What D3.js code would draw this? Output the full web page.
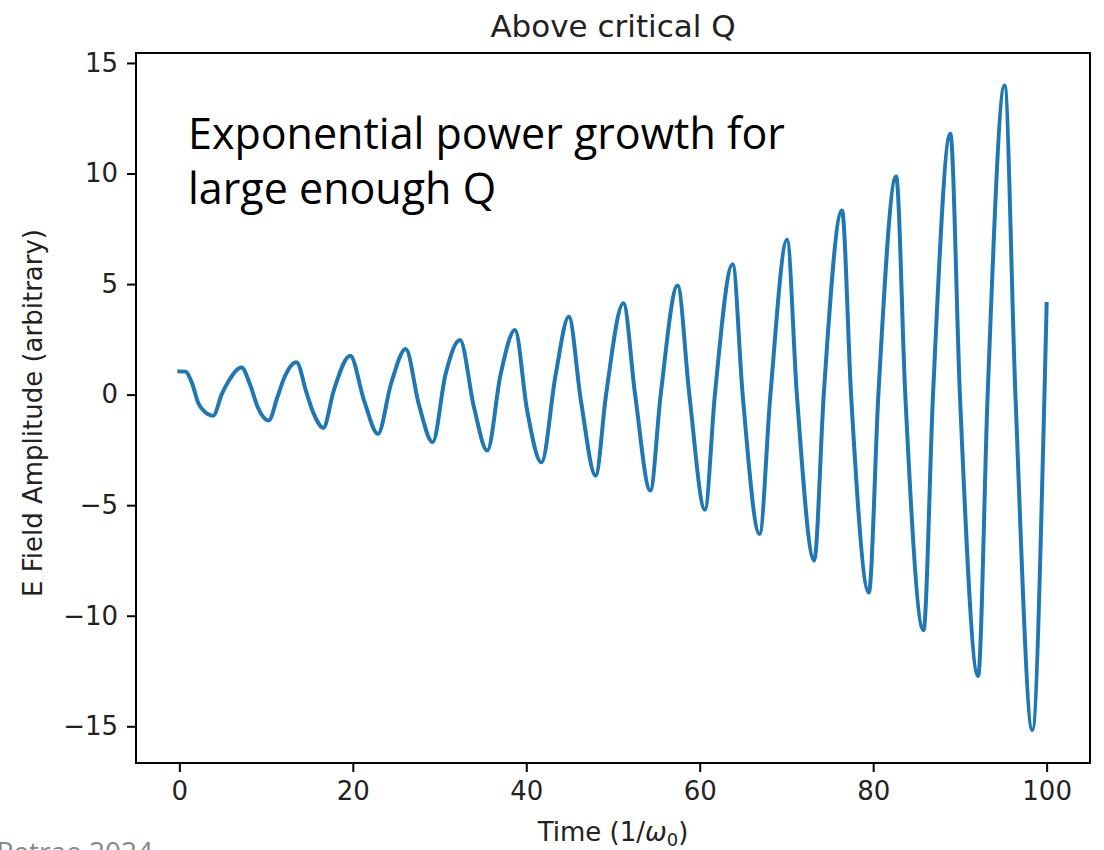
<!DOCTYPE html>
<html>
<head>
<meta charset="utf-8">
<script src="https://cdn.jsdelivr.net/npm/d3@7"></script>
<style>
  body { margin: 0; background: #fff; }
  svg text { font-family: "DejaVu Sans", sans-serif; }
</style>
</head>
<body>
<div id="chart"></div>
<script>
// readings: time (1/w0) and field amplitude
const times = [0, 0.7, 1.47, 2.2, 2.8, 3.9, 4.9, 5.7, 7.16, 8.2, 8.97, 10.3, 11.3, 12.04, 13.5,
  14.7, 15.5, 16.6, 17.8, 19.7, 21.3, 22.9, 24.4, 26.1, 27.6, 29.2, 30.7, 32.36, 33.97, 35.5,
  37.05, 38.7, 40.1, 41.75, 43.4, 44.9, 46.3, 48.0, 49.2, 51.2, 52.55, 54.3, 55.5, 57.45, 58.8,
  60.6, 61.75, 63.8, 64.95, 66.9, 68.15, 70.07, 71.2, 73.2, 74.3, 76.4, 77.45, 79.5, 80.6,
  82.65, 83.7, 85.8, 86.9, 88.9, 90.0, 92.1, 93.2, 95.15, 96.4, 98.35, 99.75, 100];
const amps = [1.05, 1.04, 0.5, -0.4, -0.72, -0.95, 0.03, 0.63, 1.23, 0.4, -0.5, -1.17, -0.12, 0.71, 1.46,
  0.03, -0.87, -1.5, 0.18, 1.76, -0.27, -1.78, 0.48, 2.06, -0.42, -2.15, 0.93, 2.47, -0.57, -2.53,
  0.93, 2.92, -0.72, -3.06, 0.93, 3.52, -0.27, -3.66, 0, 4.13, 0, -4.34, 0, 4.93, 0,
  -5.2, 0, 5.9, 0, -6.3, 0, 7.0, 0, -7.5, 0, 8.33, 0, -8.95, 0,
  9.87, 0, -10.65, 0, 11.8, 0, -12.72, 0, 13.98, 0, -15.17, 0, 4.1];

const xTicks = [0, 20, 40, 60, 80, 100];
const yTicks = [-15, -10, -5, 0, 5, 10, 15];

const titleText = "Above critical Q";
const noteLines = ["Exponential power growth for", "large enough Q"];

let margin = {top: 53, right: 14, bottom: 87, left: 136},
    width = 1104 - margin.left - margin.right,
    height = 850 - margin.top - margin.bottom;

let svg = d3.select("#chart")
    .append("svg")
    .attr("width", 1104)
    .attr("height", 850);

let g = svg.append("g")
    .attr("transform", "translate(" + margin.left + "," + margin.top + ")");

let data = times.map((t, i) => ({t: t, v: amps[i]}));

let x = d3.scaleLinear().domain([-5, 105]).range([0, width]);
let y = d3.scaleLinear().domain([-16.66, 15.45]).range([height, 0]);

// x axis
let xAxis = g.append("g")
    .attr("transform", "translate(0," + height + ")")
    .call(d3.axisBottom(x).tickValues(xTicks).tickSize(9).tickPadding(9));

// y axis
let yAxis = g.append("g")
    .call(d3.axisLeft(y).tickValues(yTicks).tickSize(9).tickPadding(9));

[xAxis, yAxis].forEach(a => {
    a.select(".domain").remove();
    a.selectAll(".tick line").attr("stroke", "#000").attr("stroke-width", 2);
    a.selectAll(".tick text")
        .attr("fill", "#222")
        .style("font-size", "26px")
        .style("font-family", "DejaVu Sans");
});
xAxis.selectAll(".tick text").attr("dy", "0.72em");

// the curve
let line = d3.line()
    .x(d => x(d.t))
    .y(d => y(d.v))
    .curve(d3.curveMonotoneX);

g.append("path")
    .datum(data)
    .attr("fill", "none")
    .attr("stroke", "#1f77b4")
    .attr("stroke-width", 4)
    .attr("stroke-linejoin", "round")
    .attr("stroke-linecap", "square")
    .attr("d", line);

// frame
g.append("rect")
    .attr("width", width)
    .attr("height", height)
    .attr("fill", "none")
    .attr("stroke", "#000")
    .attr("stroke-width", 2);

// title
svg.append("text")
    .attr("x", margin.left + width / 2)
    .attr("y", 37)
    .attr("text-anchor", "middle")
    .attr("fill", "#222")
    .style("font-size", "31px")
    .text(titleText);

// axis labels
let xl = svg.append("text")
    .attr("x", margin.left + width / 2)
    .attr("y", 841)
    .attr("text-anchor", "middle")
    .attr("fill", "#222")
    .style("font-size", "26px");
xl.append("tspan").text("Time (1/");
xl.append("tspan").attr("font-style", "italic").text("ω");
xl.append("tspan").attr("dy", 5).style("font-size", "18px").text("0");
xl.append("tspan").attr("dy", -5).text(")");

svg.append("text")
    .attr("transform", "translate(42," + (margin.top + height / 2 + 5) + ") rotate(-90)")
    .attr("text-anchor", "middle")
    .attr("fill", "#222")
    .style("font-size", "26px")
    .text("E Field Amplitude (arbitrary)");

// overlay note
svg.append("g").selectAll("text")
    .data(noteLines)
    .enter()
    .append("text")
    .attr("x", 188)
    .attr("y", (d, i) => 149 + i * 55)
    .attr("fill", "#000")
    .style("font-family", "Open Sans, sans-serif")
    .style("font-size", "43px")
    .text(d => d);

// credit, cut off at the bottom edge as in the source
svg.append("text")
    .attr("x", 153)
    .attr("y", 862)
    .attr("text-anchor", "end")
    .attr("fill", "#888")
    .style("font-family", "Open Sans, sans-serif")
    .style("font-size", "28px")
    .text("Petrae 2024");
</script>
</body>
</html>
